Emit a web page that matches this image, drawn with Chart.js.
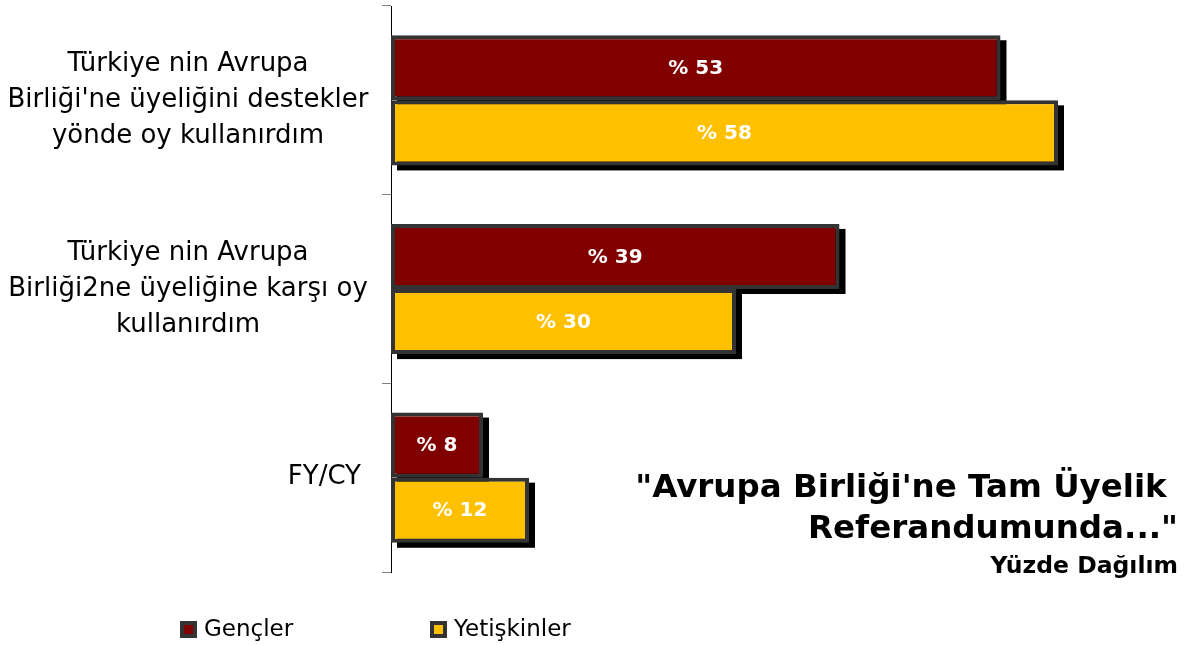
<!DOCTYPE html>
<html><head><meta charset="utf-8">
<script src="https://cdn.jsdelivr.net/npm/chart.js@4"></script>
<style>html,body{margin:0;padding:0;background:#fff}#wrap{width:1190px;height:645px;position:relative}</style>
</head><body><div id="wrap"><canvas id="c"></canvas></div>
<script>
const categories = [
  ["Türkiye nin Avrupa", "Birliği'ne üyeliğini destekler", "yönde oy kullanırdım"],
  ["Türkiye nin Avrupa", "Birliği2ne üyeliğine karşı oy", "kullanırdım"],
  ["FY/CY"]
];
const seriesNames = ["Gençler", "Yetişkinler"];
const gencler = [53, 39, 8];
const yetiskinler = [58, 30, 12];
const valuePrefix = "% ";
const titleLines = ["\"Avrupa Birliği'ne Tam Üyelik ", "Referandumunda...\""];
const subtitleText = "Yüzde Dağılım";
const seriesColors = ["#800000", "#FFC000"];
const borderCol = "#333333";
const FONT = "'DejaVu Sans', Verdana, sans-serif";

const custom = {
  id: 'custom',
  beforeDatasetsDraw(chart) {
    const ctx = chart.ctx;
    ctx.save();
    ctx.fillStyle = '#000';
    chart.data.datasets.forEach((ds, i) => {
      chart.getDatasetMeta(i).data.forEach(el => {
        const p = el.getProps(['x', 'y', 'base', 'height'], true);
        const l = Math.min(p.x, p.base), w = Math.abs(p.x - p.base);
        ctx.fillRect(l + 6, p.y - p.height / 2 + 5, w, p.height);
      });
    });
    ctx.restore();
  },
  afterDatasetsDraw(chart) {
    const ctx = chart.ctx;
    ctx.save();
    ctx.fillStyle = '#fff';
    ctx.font = `bold 20px ${FONT}`;
    ctx.textAlign = 'center';
    ctx.textBaseline = 'middle';
    chart.data.datasets.forEach((ds, i) => {
      chart.getDatasetMeta(i).data.forEach((el, j) => {
        const p = el.getProps(['x', 'y', 'base'], true);
        ctx.fillText(valuePrefix + ds.data[j], (p.x + p.base) / 2, p.y + 1);
      });
    });
    ctx.restore();
  },
  afterDraw(chart) {
    const ctx = chart.ctx;
    const ys = chart.scales.y;
    ctx.save();
    // category labels
    ctx.fillStyle = '#000';
    ctx.font = `26px ${FONT}`;
    ctx.textBaseline = 'middle';
    const centerX = 188;
    const rightEdge = chart.chartArea.left - 30;
    const lh = 36;
    categories.forEach((lines, i) => {
      const cy = ys.getPixelForValue(i);
      const y0 = cy - (lines.length - 1) * lh / 2;
      lines.forEach((t, j) => {
        if (lines.length > 1) {
          ctx.textAlign = 'center';
          ctx.fillText(t, centerX, y0 + j * lh);
        } else {
          ctx.textAlign = 'right';
          ctx.fillText(t, rightEdge, y0);
        }
      });
    });
    // title
    ctx.textAlign = 'right';
    ctx.textBaseline = 'alphabetic';
    ctx.font = `bold 32.5px ${FONT}`;
    ctx.fillText(titleLines[0], 1178, 497);
    ctx.fillText(titleLines[1], 1178, 538);
    ctx.font = `bold 23.5px ${FONT}`;
    ctx.fillText(subtitleText, 1178, 573);
    // legend
    const legX = [180, 430];
    ctx.font = `23px ${FONT}`;
    ctx.textAlign = 'left';
    ctx.textBaseline = 'middle';
    seriesNames.forEach((n, i) => {
      const bx = legX[i], by = 621;
      ctx.fillStyle = borderCol;
      ctx.fillRect(bx, by, 17, 17);
      ctx.fillStyle = seriesColors[i];
      ctx.fillRect(bx + 4, by + 4, 9, 9);
      ctx.fillStyle = '#000';
      ctx.fillText(n, bx + 24, 630);
    });
    ctx.restore();
  }
};

new Chart(document.getElementById('c'), {
  type: 'bar',
  data: {
    labels: categories,
    datasets: [
      { label: seriesNames[0], data: gencler, backgroundColor: seriesColors[0], borderColor: borderCol, borderWidth: 4, borderSkipped: false, barPercentage: 1, categoryPercentage: 0.69 },
      { label: seriesNames[1], data: yetiskinler, backgroundColor: seriesColors[1], borderColor: borderCol, borderWidth: 4, borderSkipped: false, barPercentage: 1, categoryPercentage: 0.69 }
    ]
  },
  options: {
    indexAxis: 'y',
    responsive: true,
    maintainAspectRatio: false,
    animation: false,
    layout: { padding: { top: 6, bottom: 73, right: 17, left: 0 } },
    plugins: { legend: { display: false }, tooltip: { enabled: false } },
    scales: {
      x: { display: false, min: 0, max: 68 },
      y: {
        afterFit(s) { s.width = 391; },
        ticks: { display: false },
        grid: { drawOnChartArea: false, tickLength: 9, color: '#808080', offset: true },
        border: { color: '#000', width: 1 }
      }
    }
  },
  plugins: [custom]
});
</script>
</body></html>
